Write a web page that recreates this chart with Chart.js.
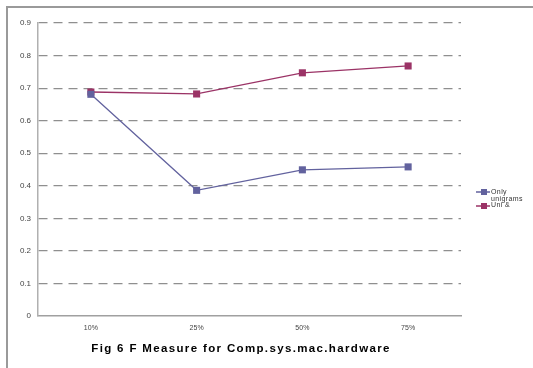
<!DOCTYPE html>
<html>
<head>
<meta charset="utf-8">
<script src="https://cdn.jsdelivr.net/npm/chart.js@4/dist/chart.umd.min.js"></script>
<style>
  html, body { margin: 0; padding: 0; background: #fff; }
  #wrap { position: relative; width: 533px; height: 368px; overflow: hidden; }
  #frame { position: absolute; left: 6px; top: 6px; width: 600px; height: 400px;
           border-left: 2px solid #9a9a9a; border-top: 2px solid #9a9a9a; }
  canvas { position: absolute; left: 0; top: 0; }
</style>
</head>
<body>
<div id="wrap">
  <div id="frame"></div>
  <canvas id="c" width="533" height="368"></canvas>
</div>
<script>
// Training-set sizes and F measure per feature set
const categories = ['10%', '25%', '50%', '75%'];
const onlyUnigrams = [0.681, 0.386, 0.449, 0.458];
const uniAnd = [0.688, 0.682, 0.747, 0.768];
const seriesNames = [['Only', 'unigrams'], ['Uni &']];
const yTicks = [0, 0.1, 0.2, 0.3, 0.4, 0.5, 0.6, 0.7, 0.8, 0.9];
const chartTitle = 'Fig 6 F Measure for Comp.sys.mac.hardware';

const BLUE = '#62629e';
const RED = '#9b3366';

// Legend drawn at the right of the plot, with wrapped series names
const sideLegend = {
  id: 'sideLegend',
  afterDraw(chart) {
    const ctx = chart.ctx;
    const x0 = 476, x1 = 490;
    const rows = [192, 206];
    const textTop = [192, 205];
    chart.data.datasets.forEach((ds, i) => {
      const y = rows[i];
      ctx.save();
      ctx.strokeStyle = ds.borderColor;
      ctx.lineWidth = 1.5;
      ctx.beginPath(); ctx.moveTo(x0, y); ctx.lineTo(x1, y); ctx.stroke();
      ctx.fillStyle = ds.backgroundColor;
      ctx.fillRect(484 - 3, y - 3, 6, 6);
      ctx.fillStyle = '#333';
      ctx.font = '7px "Liberation Sans", sans-serif';
      ctx.letterSpacing = '0.4px';
      ctx.textBaseline = 'middle';
      seriesNames[i].forEach((t, k) => ctx.fillText(t, 491, textTop[i] + k * 7));
      ctx.restore();
    });
  }
};

// Caption under the x axis
const caption = {
  id: 'caption',
  afterDraw(chart) {
    const ctx = chart.ctx;
    ctx.save();
    ctx.fillStyle = '#000';
    ctx.font = 'bold 11.5px "Liberation Sans", sans-serif';
    ctx.letterSpacing = '1.35px';
    ctx.textAlign = 'center';
    ctx.textBaseline = 'middle';
    ctx.fillText(chartTitle, 241, 349);
    ctx.restore();
  }
};

new Chart(document.getElementById('c'), {
  type: 'line',
  data: {
    labels: categories,
    datasets: [
      { label: seriesNames[0].join(' '), data: onlyUnigrams, borderColor: BLUE, backgroundColor: BLUE,
        borderWidth: 1.3, pointStyle: 'rect', pointRadius: 5, pointBorderWidth: 0, tension: 0 },
      { label: seriesNames[1].join(' '), data: uniAnd, borderColor: RED, backgroundColor: RED,
        borderWidth: 1.3, pointStyle: 'rect', pointRadius: 5, pointBorderWidth: 0, tension: 0 }
    ]
  },
  options: {
    responsive: false,
    animation: false,
    layout: { padding: { left: 0, top: 23, right: 72, bottom: 0 } },
    plugins: { legend: { display: false }, title: { display: false }, tooltip: { enabled: false } },
    scales: {
      x: {
        offset: true,
        grid: { display: false, drawTicks: false, offset: true },
        border: { display: true, color: '#a0a0a0', width: 1.5 },
        ticks: { color: '#444', font: { size: 7, family: '"Liberation Sans", sans-serif' }, padding: 8 },
        afterFit(s) { s.height = 52; }
      },
      y: {
        min: 0, max: 0.9,
        afterBuildTicks(s) { s.ticks = yTicks.map(v => ({ value: v })); },
        grid: {
          drawTicks: false,
          color: ctx => ctx.tick && ctx.tick.value === 0 ? 'rgba(0,0,0,0)' : '#8f8f8f',
          lineWidth: 1.2
        },
        border: { display: true, color: '#b0b0b0', width: 1.5, dash: [9, 6] },
        ticks: {
          color: '#444', font: { size: 8, family: '"Liberation Sans", sans-serif' }, padding: 7,
          callback: v => (v === 0 ? '0' : v.toFixed(1))
        },
        afterFit(s) { s.width = 38; }
      }
    }
  },
  plugins: [sideLegend, caption]
});
</script>
</body>
</html>
